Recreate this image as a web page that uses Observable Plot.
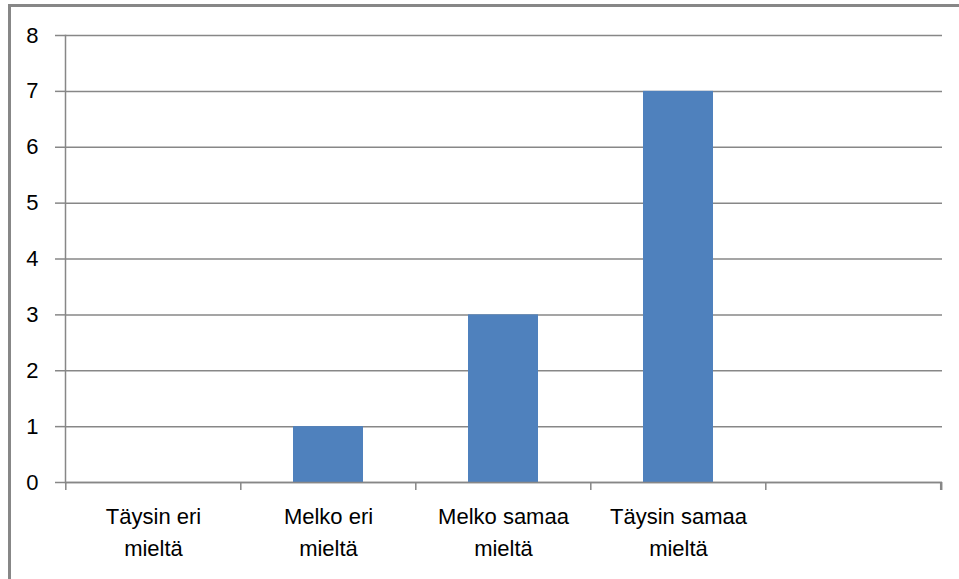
<!DOCTYPE html>
<html>
<head>
<meta charset="utf-8">
<script src="https://cdn.jsdelivr.net/npm/d3@7"></script>
<script src="https://cdn.jsdelivr.net/npm/@observablehq/plot@0.6"></script>
<style>
  body { margin: 0; background: #fff; }
  #wrap { position: relative; width: 959px; height: 579px; overflow: hidden; background: #fff; }
  #border { position: absolute; left: 8px; top: 4px; right: -10px; bottom: -10px;
            border-top: 3px solid #878787; border-left: 3px solid #878787; pointer-events: none; }
  #chart svg { display: block; }
</style>
</head>
<body>
<div id="wrap"><div id="chart"></div><div id="border"></div></div>
<script>
const categories = ["Täysin eri mieltä", "Melko eri mieltä", "Melko samaa mieltä", "Täysin samaa mieltä", ""];
const values = [0, 1, 3, 7, null];
const labels = ["Täysin eri\nmieltä", "Melko eri\nmieltä", "Melko samaa\nmieltä", "Täysin samaa\nmieltä", ""];
const yTicks = [0, 1, 2, 3, 4, 5, 6, 7, 8];

const W = 959, H = 579, ML = 65, MR = 17, MT = 35, MB = 97;
const step = (W - ML - MR) / categories.length;
const data = categories.map((c, i) => ({cat: c, value: values[i], label: labels[i]}));
const grid = "#878787";
const font = "'Liberation Sans', Arial, sans-serif";

const chart = Plot.plot({
  width: W, height: H,
  marginLeft: ML, marginRight: MR, marginTop: MT, marginBottom: MB,
  style: {fontFamily: font, fontSize: "22px", color: "#000", background: "transparent"},
  x: {domain: categories, paddingInner: 0.6, paddingOuter: 0.3, axis: null},
  y: {domain: [0, 8], axis: null},
  marks: [
    Plot.ruleY(yTicks, {y: d => d, stroke: grid, strokeWidth: 1.5}),
    Plot.axisY(yTicks, {ticks: yTicks, tickSize: 10, tickPadding: 17, stroke: grid, strokeWidth: 1.5, fontSize: 22, fill: "#000", tickFormat: d => String(d), label: null}),
    Plot.barY(data.filter(d => d.value != null), {x: "cat", y: "value", fill: "#4F81BD"}),
    Plot.ruleY([0], {y: 0, stroke: grid, strokeWidth: 1.5}),
    Plot.frame({anchor: "left", stroke: grid, strokeWidth: 1.5}),
    Plot.ruleX(data, {x: "cat", dx: -step / 2, y1: 0, y2: 0, stroke: grid, strokeWidth: 1.5, insetBottom: -8}),
    Plot.ruleX(data.slice(-1), {x: "cat", dx: step / 2, y1: 0, y2: 0, stroke: grid, strokeWidth: 2.5, insetBottom: -8}),
    Plot.text(data, {x: "cat", text: "label", frameAnchor: "bottom", lineAnchor: "top", dy: 19, lineHeight: 1.45, fontSize: 22, fill: "#000", textAnchor: "middle"})
  ]
});
document.getElementById("chart").appendChild(chart);
</script>
</body>
</html>
